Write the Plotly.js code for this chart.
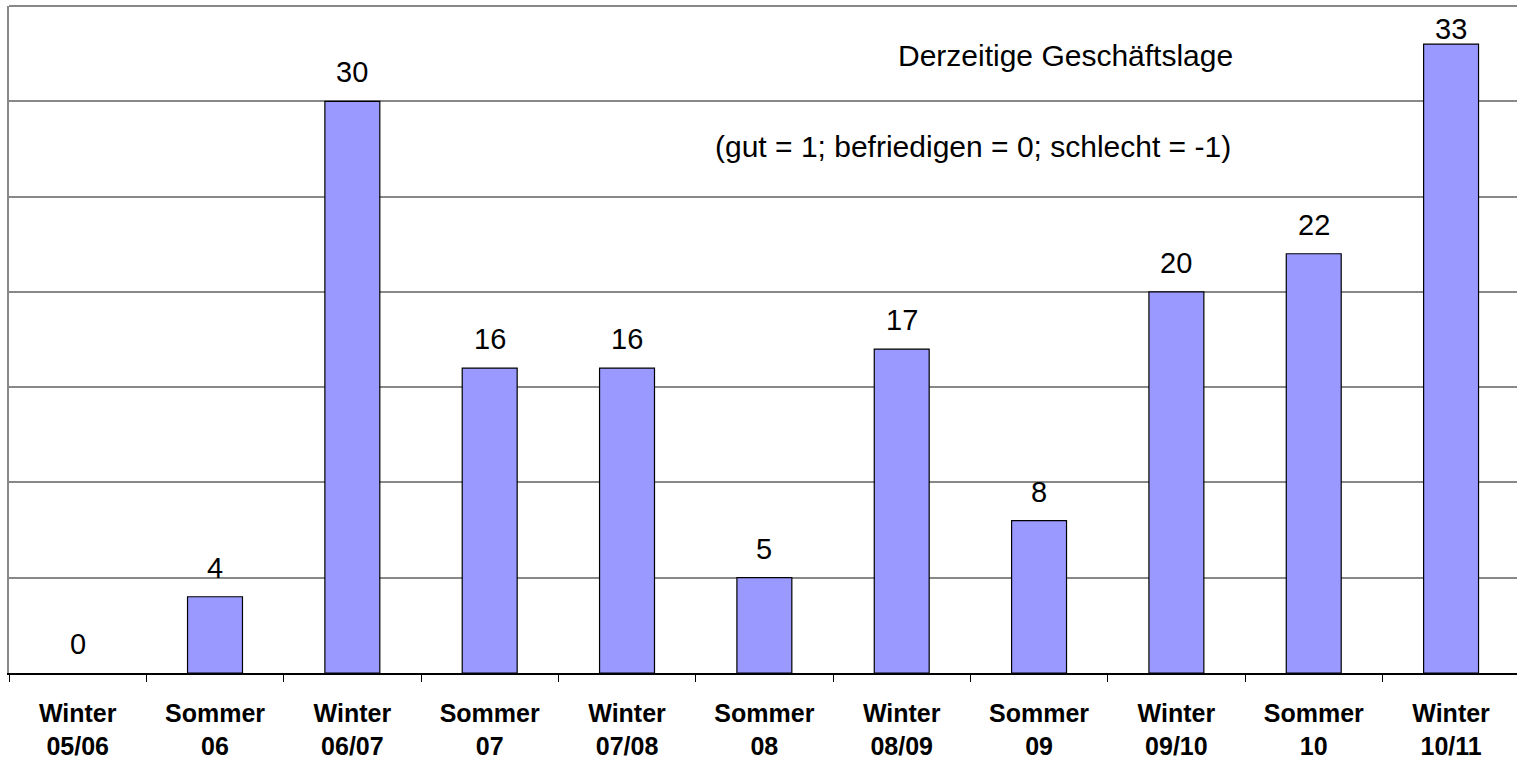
<!DOCTYPE html>
<html>
<head>
<meta charset="utf-8">
<script src="https://cdn.plot.ly/plotly-3.0.1.min.js"></script>
<style>html,body{margin:0;padding:0;background:#fff;}</style>
</head>
<body>
<div id="chart" style="width:1517px;height:759px;"></div>
<script>
const categories = ["Winter<br>05/06","Sommer<br>06","Winter<br>06/07","Sommer<br>07","Winter<br>07/08","Sommer<br>08","Winter<br>08/09","Sommer<br>09","Winter<br>09/10","Sommer<br>10","Winter<br>10/11"];
const values = [0, 4, 30, 16, 16, 5, 17, 8, 20, 22, 33];
const titleText = "Derzeitige Geschäftslage";
const noteText = "(gut = 1; befriedigen = 0; schlecht = -1)";

const W = 1517, H = 759;
const mT = 6, mB = 86;
const yMax = 35;
const pxPerUnit = (H - mT - mB) / yMax;
const labelH = 41;

const valueLabels = values.map((v, i) => {
  const room = (yMax - v) * pxPerUnit - labelH;
  return {
    x: categories[i], y: v, xref: 'x', yref: 'y',
    text: String(v), showarrow: false,
    yanchor: 'bottom', yshift: Math.max(-4, Math.min(11, room)),
    font: {family: 'Liberation Sans, Arial, sans-serif', size: 29, color: '#000'}
  };
});

const data = [{
  type: 'bar',
  x: categories,
  y: values,
  marker: {color: '#9999FF', line: {color: '#000', width: values.map(v => v === 0 ? 0 : 1.2)}},
  hoverinfo: 'none'
}];

const layout = {
  width: W, height: H,
  margin: {l: 9, r: 0, t: mT, b: mB, pad: 0},
  paper_bgcolor: '#fff', plot_bgcolor: '#fff',
  showlegend: false,
  bargap: 0.6,
  font: {family: 'Liberation Sans, Arial, sans-serif', color: '#000'},
  xaxis: {
    type: 'category',
    range: [-0.5, 10.48],
    showgrid: false, zeroline: false,
    showline: true, linecolor: '#000', linewidth: 2,
    ticks: 'outside', tickson: 'boundaries', ticklen: 7, tickcolor: '#000', tickwidth: 1,
    tickfont: {family: 'Liberation Sans, Arial, sans-serif', size: 25, color: '#000', weight: 'bold'},
    ticklabelstandoff: 17,
    fixedrange: true
  },
  yaxis: {
    range: [0, yMax], dtick: 5,
    showgrid: true, gridcolor: '#888', gridwidth: 2,
    zeroline: false, showticklabels: false, ticks: '',
    showline: true, linecolor: '#888', linewidth: 2,
    fixedrange: true
  },
  shapes: [{
    type: 'line', xref: 'paper', yref: 'paper', x0: 0, x1: 1, y0: 1, y1: 1,
    line: {color: '#888', width: 2}
  }],
  annotations: valueLabels.concat([
    {xref: 'paper', yref: 'paper', x: 0.7003, y: 0.9265, xanchor: 'center', yanchor: 'middle',
     text: titleText, showarrow: false, font: {size: 30, color: '#000'}},
    {xref: 'paper', yref: 'paper', x: 0.6393, y: 0.790, xanchor: 'center', yanchor: 'middle',
     text: noteText, showarrow: false, font: {size: 30, color: '#000'}}
  ])
};

Plotly.newPlot('chart', data, layout, {displayModeBar: false, staticPlot: true});
</script>
</body>
</html>
